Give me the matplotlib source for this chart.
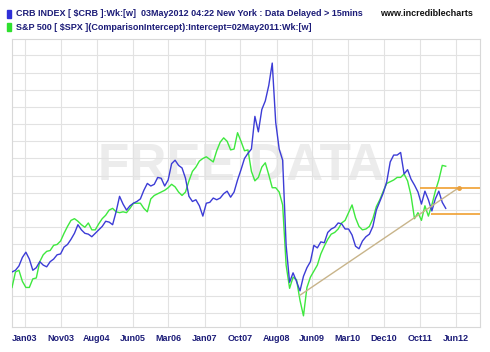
import numpy as np
import matplotlib.pyplot as plt

# weekly closes, sampled every 4 weeks from late Sep 2002 to May 2012
crb = [228, 230, 235, 245, 251, 243, 230, 233, 240, 236, 234, 240, 243, 248, 249, 257,
       260, 266, 273, 283, 277, 273, 272, 269, 273, 277, 281, 287, 286, 283, 298, 316,
       307, 300, 305, 308, 310, 313, 323, 331, 328, 330, 338, 337, 328, 335, 354, 358,
       352, 349, 337, 316, 310, 312, 305, 293, 308, 309, 314, 312, 314, 319, 322, 315,
       321, 335, 347, 360, 366, 371, 409, 391, 417, 427, 445, 471, 402, 371, 358, 259,
       216, 227, 217, 206, 223, 233, 240, 259, 256, 263, 262, 274, 278, 280, 285, 284,
       278, 278, 271, 258, 255, 264, 269, 272, 281, 300, 310, 320, 333, 356, 364, 364,
       367, 342, 347, 336, 329, 321, 307, 322, 312, 299, 313, 322, 309, 302]
# S&P 500 rescaled to the CRB at 02May2011
spx = [210, 228, 230, 217, 210, 210, 220, 221, 240, 248, 252, 253, 259, 260, 264, 273,
       281, 288, 290, 287, 283, 280, 285, 277, 277, 284, 290, 294, 300, 302, 298, 297,
       298, 297, 302, 308, 308, 308, 302, 298, 313, 317, 319, 321, 323, 326, 330, 327,
       321, 317, 321, 334, 345, 350, 357, 360, 362, 359, 356, 369, 379, 384, 380, 370,
       371, 390, 380, 369, 370, 345, 334, 338, 350, 355, 341, 326, 326, 321, 306, 236,
       209, 222, 219, 195, 177, 210, 222, 229, 236, 249, 258, 266, 272, 274, 278, 285,
       288, 297, 306, 291, 281, 277, 278, 281, 290, 304, 312, 322, 331, 333, 335, 338,
       338, 342, 334, 317, 290, 297, 288, 305, 293, 306, 322, 335, 352, 351]
weeks = np.arange(len(crb)) * 4

tick_weeks = [15, 56, 98, 139, 180, 222, 263, 305, 346, 387, 429, 470, 512]
tick_labels = ['Jan03', 'Nov03', 'Aug04', 'Jun05', 'Mar06', 'Jan07', 'Oct07',
               'Aug08', 'Jun09', 'Mar10', 'Dec10', 'Oct11', 'Jun12']

# drawn lines: support trend from the 2009 low and the recent range
trend_x = [332, 515]
trend_y = [201, 326]
range_top = [470, 540, 326]
range_bot = [483, 540, 295]

navy = '#1c1c78'
plt.rcParams['font.family'] = ['Liberation Sans', 'DejaVu Sans']

fig = plt.figure(figsize=(4.9, 3.52), dpi=100)
ax = fig.add_axes([12/490, 25/352, 468/490, 288/352])

ax.text(0.49, 0.556, 'FREE DATA', transform=ax.transAxes, ha='center', va='center',
        fontsize=37, fontweight='bold', color='#ececec', zorder=0)

ax.plot(weeks, spx, color='#3ee83e', lw=1.0, zorder=3)
ax.plot(weeks, crb, color='#3c3cd6', lw=1.0, zorder=4)
ax.plot(trend_x, trend_y, color='#c8b48a', lw=1.0, zorder=5)
ax.plot(trend_x[1], trend_y[1], marker='o', ms=2.5, color='#e8a040', zorder=6)
ax.hlines([range_top[2], range_bot[2]], [range_top[0], range_bot[0]],
          [range_top[1], range_bot[1]], color='#f0a030', lw=1.2, zorder=5)

ax.set_xlim(0, 539.5)
ax.set_ylim(164, 499)
ax.set_xticks(tick_weeks)
ax.set_xticklabels(tick_labels, fontsize=6.5, fontweight='bold', color=navy)
ax.set_yticks(np.arange(180, 500, 20))
ax.tick_params(axis='x', length=0, pad=5)
ax.tick_params(axis='y', length=0, labelleft=False)
ax.grid(True, color='#e2e2e2', lw=0.8)
ax.set_axisbelow(True)
for s in ax.spines.values():
    s.set_color('#d8d8d8')
    s.set_linewidth(0.8)

fig.patches.append(plt.Rectangle((7/490, 1 - 18/352), 4/490, 8/352, color='#2f2fd8',
                                 transform=fig.transFigure, figure=fig))
fig.patches.append(plt.Rectangle((7/490, 1 - 31/352), 4/490, 8/352, color='#2ee02e',
                                 transform=fig.transFigure, figure=fig))
fig.text(16/490, 1 - 14/352, 'CRB INDEX [ $CRB ]:Wk:[w]  03May2012 04:22 New York : Data Delayed > 15mins',
         fontsize=6.5, fontweight='bold', color=navy, va='center', parse_math=False)
fig.text(16/490, 1 - 27/352, 'S&P 500 [ $SPX ](ComparisonIntercept):Intercept=02May2011:Wk:[w]',
         fontsize=6.5, fontweight='bold', color=navy, va='center', parse_math=False)
fig.text(473/490, 1 - 14/352, 'www.incrediblecharts', fontsize=6.5, fontweight='bold',
         color='#111111', va='center', ha='right')

fig.savefig('out.png', dpi=100, facecolor='white')
